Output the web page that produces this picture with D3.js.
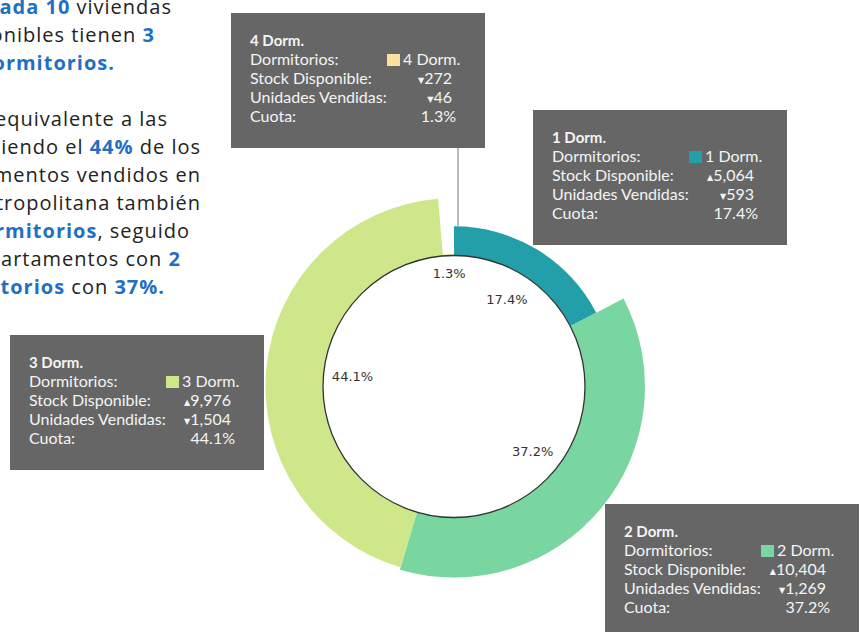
<!DOCTYPE html>
<html>
<head>
<meta charset="utf-8">
<script src="https://cdn.jsdelivr.net/npm/d3@7"></script>
<style>
  body { margin: 0; background: #fff; }
  svg { display: block; }
</style>
</head>
<body>
<div id="vis"></div>
<script>
// data
var categories = ["1 Dorm.", "2 Dorm.", "3 Dorm.", "4 Dorm."];
var stock = [5064, 10404, 9976, 272];
var stockDir = ["up", "up", "up", "down"];
var sold = [593, 1269, 1504, 46];
var soldDir = ["down", "down", "down", "down"];
var shares = ["17.4%", "37.2%", "44.1%", "1.3%"];
var colors = ["#229fa8", "#7ad6a0", "#cde78a", "#fbe29a"];

// annotation text (segments: [text, bold])
var noteLines = [
  [["4 de cada 10", true], [" viviendas", false]],
  [["disponibles tienen ", false], ["3", true]],
  [["dormitorios.", true]],
  null,
  [["Lo que es equivalente a las", false]],
  [["siendo el ", false], ["44%", true], [" de los", false]],
  [["departamentos vendidos en", false]],
  [["Lima Metropolitana también", false]],
  [["3 dormitorios", true], [", seguido", false]],
  [["de departamentos con ", false], ["2", true]],
  [["dormitorios", true], [" con ", false], ["37%.", true]]
];
// right end of each note line
var noteEnds = [172, 155, 115, null, 168, 201, 201, 201, 190, 181, 165];

// tooltip box corners
var tipPos = [[533, 110], [605, 504], [10, 335], [231, 13]];

var width = 860, height = 632,
    cx = 454, cy = 386.5,
    innerR = 131;

var data = categories.map(function(c, i) {
  return {name: c, stock: stock[i], stockDir: stockDir[i], sold: sold[i],
          soldDir: soldDir[i], share: shares[i], color: colors[i], pos: tipPos[i]};
});

var svg = d3.select("#vis").append("svg")
    .attr("width", width)
    .attr("height", height);

// thickness of each ring slice follows the available stock
var thick = d3.scaleLinear()
    .domain([0, d3.max(stock)])
    .range([0, 60]);

var pie = d3.pie()
    .sort(null)
    .value(function(d) { return d.sold; });

var arc = d3.arc()
    .innerRadius(innerR)
    .outerRadius(function(d) { return innerR + thick(d.data.stock); });

var arcs = pie(data);

var g = svg.append("g")
    .attr("transform", "translate(" + cx + "," + cy + ")");

g.selectAll("path.slice")
    .data(arcs)
    .enter()
    .append("path")
    .attr("class", "slice")
    .attr("d", arc)
    .attr("fill", function(d) { return d.data.color; });

g.append("circle")
    .attr("r", innerR)
    .attr("fill", "#fff")
    .attr("stroke", "#333")
    .attr("stroke-width", 1.3);

// labels inside the hole
g.selectAll("text.pct")
    .data(arcs)
    .enter()
    .append("text")
    .attr("class", "pct")
    .attr("transform", function(d) {
      var r = (d.endAngle - d.startAngle) < 0.2 ? 113 : 102;
      var c = d3.arc().innerRadius(r).outerRadius(r).centroid(d);
      return "translate(" + c[0] + "," + c[1] + ")";
    })
    .attr("text-anchor", "middle")
    .attr("dy", "0.35em")
    .style("font-family", "'DejaVu Sans', sans-serif")
    .style("font-size", "13px")
    .style("fill", "#333")
    .text(function(d) { return d.data.share; });

// leader line from the 4 Dorm. box
var small = data[3], first = data[0];
var lx = small.pos[0] + 227,
    rOut = innerR + thick(first.stock);
svg.append("line")
    .attr("x1", lx)
    .attr("x2", lx)
    .attr("y1", small.pos[1] + 135)
    .attr("y2", cy - Math.sqrt(rOut * rOut - (lx - cx) * (lx - cx)))
    .attr("stroke", "#a3a3a3")
    .attr("stroke-width", 1.5);

// tooltip boxes
var fmt = d3.format(",");
var tip = svg.selectAll("g.tip")
    .data(data)
    .enter()
    .append("g")
    .attr("class", "tip")
    .attr("transform", function(d) { return "translate(" + d.pos[0] + "," + d.pos[1] + ")"; })
    .style("font-family", "Lato, 'Open Sans', sans-serif")
    .style("font-size", "16px")
    .style("fill", "#f4f4f4");

tip.append("rect")
    .attr("width", 254)
    .attr("height", 135)
    .attr("fill", "#666666");

tip.append("text")
    .attr("x", 19).attr("y", 33)
    .style("font-weight", "bold")
    .style("font-size", "15px")
    .text(function(d) { return d.name; });

var rowLabels = ["Dormitorios:", "Stock Disponible:", "Unidades Vendidas:", "Cuota:"];
rowLabels.forEach(function(lab, i) {
  tip.append("text")
      .attr("x", 19).attr("y", 33 + 19 * (i + 1))
      .text(lab);
});

tip.append("rect")
    .attr("x", 156).attr("y", 33 + 19 - 11)
    .attr("width", 13).attr("height", 12)
    .attr("fill", function(d) { return d.color; });

tip.append("text")
    .attr("x", 172).attr("y", 33 + 19)
    .text(function(d) { return d.name; });

function arrowValue(sel, row, key, dirKey) {
  var t = sel.append("text")
      .attr("x", 221).attr("y", 33 + 19 * row)
      .attr("text-anchor", "end");
  t.append("tspan")
      .style("font-family", "'DejaVu Sans', sans-serif")
      .style("font-size", "8px")
      .attr("dy", -1)
      .text(function(d) { return d[dirKey] == "up" ? "\u25B2" : "\u25BC"; });
  t.append("tspan")
      .attr("dy", 1)
      .text(function(d) { return fmt(d[key]); });
}
arrowValue(tip, 2, "stock", "stockDir");
arrowValue(tip, 3, "sold", "soldDir");

tip.append("text")
    .attr("x", 225).attr("y", 33 + 19 * 4)
    .attr("text-anchor", "end")
    .text(function(d) { return d.share; });

// annotation on the left
var note = svg.append("g")
    .style("font-family", "'Open Sans', sans-serif")
    .style("font-size", "20px")
    .style("letter-spacing", "1px");

noteLines.forEach(function(line, i) {
  if (!line) return;
  var t = note.append("text")
      .attr("x", noteEnds[i])
      .attr("y", 14 + 28 * i)
      .attr("text-anchor", "end");
  line.forEach(function(seg) {
    t.append("tspan")
        .style("font-weight", seg[1] ? "bold" : "normal")
        .style("fill", seg[1] ? "#1f6fc4" : "#222")
        .text(seg[0]);
  });
});
</script>
</body>
</html>
